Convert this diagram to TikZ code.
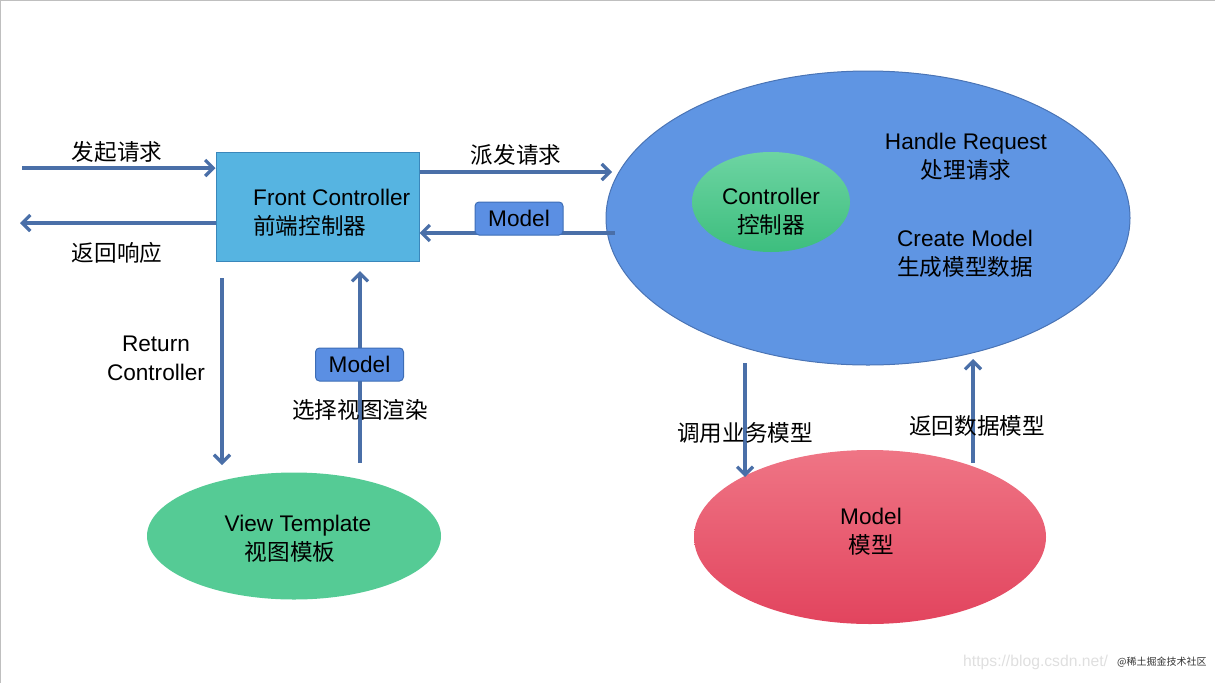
\documentclass[tikz,border=0pt]{standalone}
\usepackage{fontspec}
\setmainfont{Liberation Sans}
\newfontfamily\cjk{Noto Sans CJK SC}
\usetikzlibrary{arrows.meta, shapes.geometric, positioning}

\definecolor{flowblue}{HTML}{4A6FA8}
\definecolor{frontfill}{HTML}{56B4E1}
\definecolor{frontline}{HTML}{3A87BB}
\definecolor{handlerfill}{HTML}{5F95E3}
\definecolor{handlerline}{HTML}{4A74B5}
\definecolor{tagfill}{HTML}{5B8FE3}
\definecolor{tagline}{HTML}{3D6DB5}
\definecolor{viewfill}{HTML}{55CB95}
\definecolor{ctrltop}{HTML}{6DD4A2}
\definecolor{ctrlbottom}{HTML}{3DBE7E}
\definecolor{modeltop}{HTML}{EF7585}
\definecolor{modelbottom}{HTML}{E2445E}

\begin{document}
\begin{tikzpicture}[x=1pt, y=-1pt, font=\fontsize{22.6}{29}\selectfont,
    flow/.style={draw=flowblue, line width=3.2pt, -{Straight Barb[length=8pt,width=16pt]}},
    tag/.style={draw=tagline, fill=tagfill, line width=1pt, rounded corners=4pt,
                minimum width=88pt, minimum height=33pt, inner sep=0pt},
    blob/.style={ellipse, inner sep=0pt, align=center}]
    \useasboundingbox (0,0) rectangle (1215,683);
    \draw[gray!50, line width=1.5pt] (0,683) -- (0,0) -- (1215,0);

    % front controller
    \node[draw=frontline, fill=frontfill, line width=1pt, minimum width=203pt, minimum height=109pt] (front) at (317.5,206.5) {};
    \node[align=left, anchor=west, inner sep=0pt] (fronttext) at (253,213) {Front Controller\\{\cjk 前端控制器}};

    % handler with controller
    \node[blob, draw=handlerline, fill=handlerfill, line width=1pt, minimum width=524pt, minimum height=294pt] (handler) at (868,218) {};
    \node[blob, top color=ctrltop, bottom color=ctrlbottom, minimum width=158pt, minimum height=100pt] (ctrl) at (771,202) {};
    \node[align=center, inner sep=0pt] (ctrltext) at (771,212) {Controller\\{\cjk 控制器}};
    \node[align=center, inner sep=0pt] (handle) at (966,157) {Handle Request\\{\cjk 处理请求}};
    \node[align=center, inner sep=0pt] (create) at (965,254) {Create Model\\{\cjk 生成模型数据}};

    % model and view
    \node[blob, top color=modeltop, bottom color=modelbottom, minimum width=352pt, minimum height=174pt] (model) at (870,537) {};
    \node[align=center, inner sep=0pt] (modeltext) at (871,532) {Model\\{\cjk 模型}};
    \node[blob, fill=viewfill, minimum width=294pt, minimum height=127pt] (view) at (294,536) {};
    \node[align=center, inner sep=0pt] (viewtext) at (298,539) {View Template\\{\cjk 视图模板}\hspace*{16pt}};

    % free ends
    \coordinate (user in) at (22,168);
    \coordinate (user out) at (20,223);
    \coordinate (disp end) at (612,172);
    \coordinate (back start) at (615,233);
    \coordinate (call start) at (745,363);
    \coordinate (call end) at (745,477);
    \coordinate (ret start) at (973,463);
    \coordinate (ret end) at (973,359);
    \coordinate (rc start) at (222,278);
    \coordinate (rc end) at (222,465);
    \coordinate (sel start) at (360,463);
    \coordinate (sel end) at (360,271);

    % connectors
    \draw[flow] (user in) -- (user in -| front.west);
    \draw[flow] (front.west |- user out) -- (user out);
    \draw[flow] (front.east |- disp end) -- (disp end);
    \draw[flow] (back start) -- (front.east |- back start);
    \draw[flow] (call start) -- (call end);
    \draw[flow] (ret start) -- (ret end);
    \draw[flow] (rc start) -- (rc end);
    \draw[flow] (sel start) -- (sel end);

    \node[tag] (tag back) at (519,218.5) {Model};
    \node[tag] (tag sel) at (359.5,364.5) {Model};

    % labels
    \node (lbl in) at (117,152) {\cjk 发起请求};
    \node (lbl out) at (117,253) {\cjk 返回响应};
    \node (lbl disp) at (516,155) {\cjk 派发请求};
    \node (lbl call) at (745,433) {\cjk 调用业务模型};
    \node (lbl ret) at (977,426) {\cjk 返回数据模型};
    \node (lbl sel) at (360,410) {\cjk 选择视图渲染};
    \node[align=center] (lbl rc) at (156,358) {Return\\Controller};

    % watermark
    \node[anchor=west, gray!25, inner sep=0pt, font=\fontsize{15.7}{18}\selectfont] (mark url) at (963,662) {https://blog.csdn.net/};
    \node[anchor=west, black!80, inner sep=0pt, font=\fontsize{10}{12}\selectfont\cjk] (mark site) at (1117,662) {@稀土掘金技术社区};
\end{tikzpicture}
\end{document}
